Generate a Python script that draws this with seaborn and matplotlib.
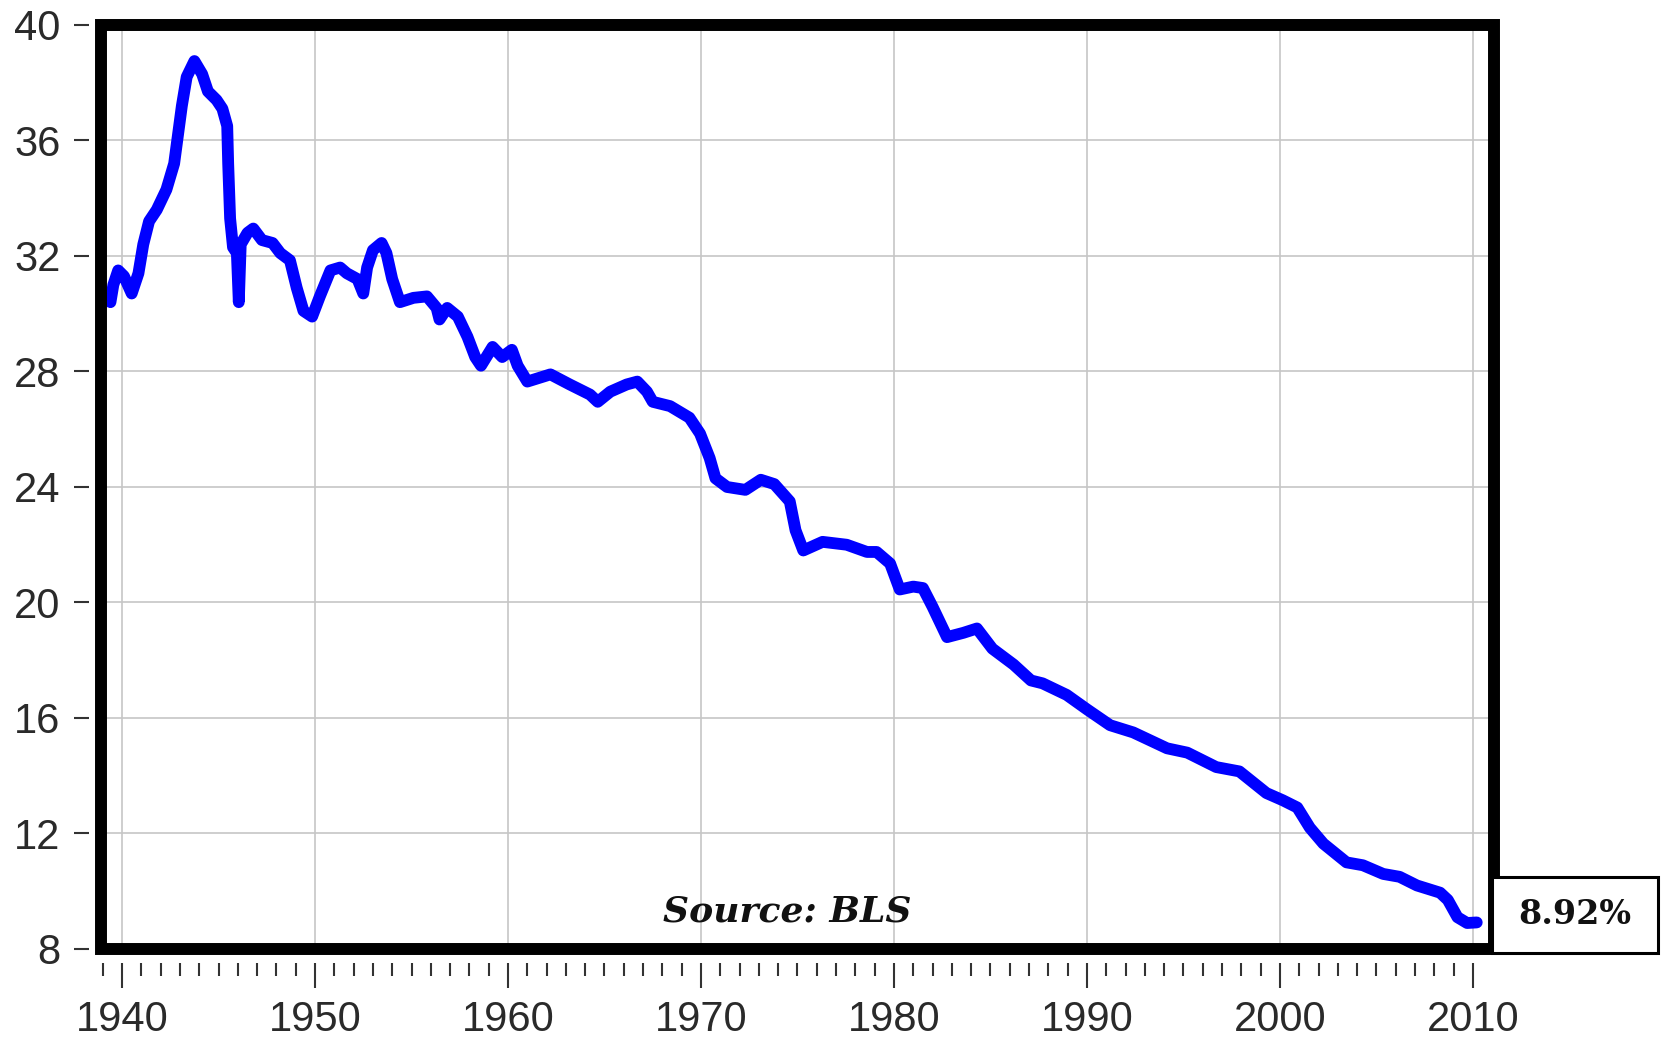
import matplotlib
matplotlib.use("Agg")
import matplotlib.pyplot as plt
from matplotlib.patches import Rectangle
from matplotlib.ticker import FixedLocator
import seaborn as sns

# Share of wage and salary workers in unions, percent
years = [
    1939.4, 1939.55, 1939.8, 1940.1, 1940.5, 1940.85, 1941.1, 1941.4, 1941.8, 1942.3,
    1942.7, 1942.9, 1943.1, 1943.35, 1943.75, 1944.15, 1944.45, 1944.9, 1945.2, 1945.45,
    1945.5, 1945.6, 1945.75, 1945.95, 1946.05, 1946.15, 1946.5, 1946.8, 1947.25, 1947.8,
    1948.2, 1948.7, 1949.05, 1949.4, 1949.85, 1950.25, 1950.8, 1951.3, 1951.65, 1952.2,
    1952.5, 1952.7, 1953.0, 1953.45, 1953.7, 1954.0, 1954.4, 1955.1, 1955.8, 1956.3,
    1956.45, 1956.85, 1957.4, 1957.9, 1958.3, 1958.6, 1959.2, 1959.7, 1960.2, 1960.5,
    1961.0, 1962.2, 1963.2, 1964.25, 1964.65, 1965.3, 1966.15, 1966.7, 1967.2, 1967.5,
    1968.4, 1969.4, 1969.95, 1970.45, 1970.75, 1971.35, 1972.3, 1973.1, 1973.8, 1974.6,
    1974.9, 1975.3, 1976.3, 1977.55, 1978.6, 1979.1, 1979.8, 1980.3, 1981.0, 1981.5,
    1982.0, 1982.75, 1983.6, 1984.3, 1985.1, 1986.2, 1987.1, 1987.7, 1988.95, 1990.0,
    1991.2, 1992.4, 1994.15, 1995.2, 1996.7, 1997.9, 1999.3, 2000.15, 2000.9, 2001.55,
    2002.25, 2003.45, 2004.3, 2005.35, 2006.2, 2007.1, 2008.3, 2008.7, 2009.2, 2009.7,
    2010.2,
]
union_share = [
    30.4, 31.0, 31.5, 31.3, 30.7, 31.4, 32.4, 33.2, 33.6, 34.3,
    35.2, 36.2, 37.2, 38.2, 38.75, 38.3, 37.7, 37.4, 37.1, 36.5,
    35.2, 33.3, 32.3, 32.1, 30.4, 32.4, 32.8, 32.95, 32.55, 32.45,
    32.1, 31.85, 30.9, 30.1, 29.9, 30.6, 31.5, 31.6, 31.4, 31.2,
    30.7, 31.6, 32.2, 32.45, 32.1, 31.2, 30.4, 30.55, 30.6, 30.2,
    29.8, 30.2, 29.9, 29.2, 28.5, 28.2, 28.85, 28.5, 28.75, 28.2,
    27.65, 27.9, 27.55, 27.2, 26.95, 27.3, 27.55, 27.65, 27.3, 26.95,
    26.8, 26.4, 25.85, 25.0, 24.3, 24.0, 23.9, 24.25, 24.1, 23.5,
    22.5, 21.8, 22.1, 22.0, 21.75, 21.75, 21.35, 20.45, 20.55, 20.5,
    19.85, 18.8, 18.95, 19.1, 18.4, 17.85, 17.3, 17.2, 16.8, 16.3,
    15.75, 15.5, 14.95, 14.8, 14.3, 14.15, 13.4, 13.15, 12.9, 12.2,
    11.65, 11.0, 10.9, 10.6, 10.5, 10.2, 9.95, 9.7, 9.1, 8.9,
    8.92,
]
x_major = [1940, 1950, 1960, 1970, 1980, 1990, 2000, 2010]
x_minor = [y for y in range(1939, 2011) if y % 10 != 0]
y_major = [8, 12, 16, 20, 24, 28, 32, 36, 40]
source_note = "Source: BLS"

sns.set_style("white")
plt.rcParams['font.family'] = ['Liberation Sans', 'DejaVu Sans']

fig = plt.figure(figsize=(16.64, 10.4), dpi=100)
ax = fig.add_axes([0.0607, 0.0875, 0.8371, 0.8885])

sns.lineplot(x=years, y=union_share, ax=ax, color='#0000ff', linewidth=8.5,
             sort=False, estimator=None, solid_joinstyle='round',
             solid_capstyle='round')

ax.set_xlim(1938.91, 2011.09)
ax.set_ylim(8, 40)
ax.xaxis.set_major_locator(FixedLocator(x_major))
ax.xaxis.set_minor_locator(FixedLocator(x_minor))
ax.yaxis.set_major_locator(FixedLocator(y_major))

ax.set_axisbelow(True)
ax.grid(True, which='major', color='#c6c6c6', linewidth=1.2)

# thick black frame drawn separately so ticks can sit outside with a gap
for side in ['top', 'right']:
    ax.spines[side].set_visible(False)
ax.spines['bottom'].set_position(('outward', 10))
ax.spines['left'].set_position(('outward', 9))
ax.spines['bottom'].set_color('none')
ax.spines['left'].set_color('none')
ax.add_patch(Rectangle((0, 0), 1, 1, transform=ax.transAxes, fill=False,
                       edgecolor='black', linewidth=8.6, clip_on=False, zorder=5))

ax.tick_params(axis='x', which='major', bottom=True, length=18, width=1.5,
               color='#333333', pad=9, labelsize=30, labelcolor='#2a2a2a')
ax.tick_params(axis='x', which='minor', bottom=True, length=9.5, width=1.5,
               color='#333333')
ax.tick_params(axis='y', which='major', left=True, length=11, width=1.5,
               color='#333333', pad=9, labelsize=30, labelcolor='#2a2a2a')
ax.set_xlabel('')
ax.set_ylabel('')

ax.text(1974.45, 9.3, source_note, ha='center', va='center',
        family='DejaVu Serif', weight='bold', style='italic', size=26,
        color='#111111')

# value box at the right end
fig.patches.append(Rectangle((1492 / 1664, 1 - 953 / 1040), 166 / 1664, 76 / 1040,
                             transform=fig.transFigure, facecolor='white',
                             edgecolor='black', linewidth=2.2, zorder=6))
fig.text(1575 / 1664, 1 - 915 / 1040, f"{union_share[-1]:.2f}%", ha='center',
         va='center', family='DejaVu Serif', weight='bold', size=24,
         color='#111111', zorder=7)

fig.savefig('out.png', dpi=100)
